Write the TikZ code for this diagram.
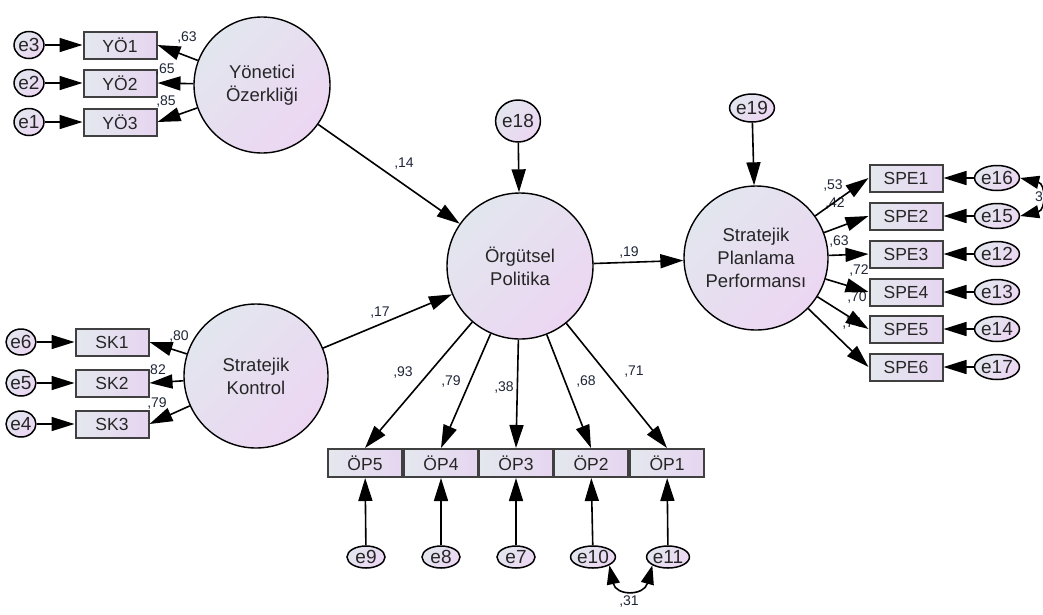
\documentclass[tikz,border=0pt]{standalone}
\usepackage{fontspec}
\setmainfont{Liberation Sans}
\usetikzlibrary{arrows.meta,shapes.geometric}
\definecolor{fillA}{HTML}{E2E6EE}
\definecolor{fillB}{HTML}{ECD6F2}
\definecolor{boxA}{HTML}{E4E8EE}
\definecolor{boxB}{HTML}{E6D5F0}
\definecolor{coefc}{HTML}{1E2536}
\begin{document}
\begin{tikzpicture}[x=1pt, y=-1pt,
  latent/.style={circle, draw, line width=1.4pt, minimum size=#1, inner sep=0pt, top color=fillA, bottom color=fillB, shading angle=45, align=center, font=\fontsize{18.5}{23}\selectfont, text=black!85},
  observed/.style={rectangle, draw=black!75, line width=2pt, minimum width=73pt, minimum height=27pt, inner sep=0pt, left color=boxA, right color=boxB, font=\fontsize{17.5}{17.5}\selectfont, text=black!85},
  err/.style 2 args={ellipse, draw, line width=1.5pt, minimum width=#1, minimum height=#2, inner sep=0pt, top color=fillA, bottom color=fillB, shading angle=45, font=\fontsize{19}{19}\selectfont, text=black!85},
  coef/.style={font=\fontsize{14}{14}\selectfont, text=coefc, inner sep=0pt},
  arr/.style={-{Triangle[length=23pt,width=14pt]}, line width=1.6pt},
  cov/.style={{Triangle[length=19pt,width=13pt]}-{Triangle[length=19pt,width=13pt]}, line width=1.6pt}]
\useasboundingbox (0,0) rectangle (1043,614);
% Latent variables
\node[latent=136pt] (yo) at (262,85) {Yönetici\\Özerkliği};
\node[latent=144pt] (sk) at (256,376) {Stratejik\\Kontrol};
\node[latent=146pt] (op) at (520,266) {Örgütsel\\Politika};
\node[latent=144pt] (spp) at (756,258) {Stratejik\\Planlama\\Performansı};
% Structural errors
\node[err={34pt}{42pt}] (e18) at (518,121) {e18};
\node[err={32pt}{28pt}] (e19) at (752,108) {e19};
% Yönetici Özerkliği indicators
\node[observed] (yo1) at (120,45) {YÖ1};
\node[observed] (yo2) at (120,83) {YÖ2};
\node[observed] (yo3) at (120,122) {YÖ3};
\node[err={25pt}{27pt}] (e3) at (29,45) {e3};
\node[err={25pt}{27pt}] (e2) at (29,83) {e2};
\node[err={25pt}{27pt}] (e1) at (29,122) {e1};
% Stratejik Kontrol indicators
\node[observed] (sk1) at (112,342) {SK1};
\node[observed] (sk2) at (112,383) {SK2};
\node[observed] (sk3) at (112,424) {SK3};
\node[err={25pt}{26pt}] (e6) at (21,342) {e6};
\node[err={25pt}{26pt}] (e5) at (21,383) {e5};
\node[err={25pt}{26pt}] (e4) at (21,424) {e4};
% Örgütsel Politika indicators
\node[observed, minimum width=74pt, minimum height=28pt] (op5) at (365,463) {ÖP5};
\node[observed, minimum width=74pt, minimum height=28pt] (op4) at (441,463) {ÖP4};
\node[observed, minimum width=74pt, minimum height=28pt] (op3) at (516,463) {ÖP3};
\node[observed, minimum width=74pt, minimum height=28pt] (op2) at (591,463) {ÖP2};
\node[observed, minimum width=74pt, minimum height=28pt] (op1) at (667,463) {ÖP1};
\node[err={38pt}{22pt}] (e9) at (366,557) {e9};
\node[err={38pt}{22pt}] (e8) at (441,557) {e8};
\node[err={38pt}{22pt}] (e7) at (516,557) {e7};
\node[err={38pt}{22pt}] (e10) at (593,557) {e10};
\node[err={38pt}{22pt}] (e11) at (668,557) {e11};
% Stratejik Planlama Performansı indicators
\node[observed] (spe1) at (906,178) {SPE1};
\node[observed] (spe2) at (906,216) {SPE2};
\node[observed] (spe3) at (906,254) {SPE3};
\node[observed] (spe4) at (906,292) {SPE4};
\node[observed] (spe5) at (906,329) {SPE5};
\node[observed] (spe6) at (906,367) {SPE6};
\node[err={37pt}{25pt}] (e16) at (997,178) {e16};
\node[err={37pt}{25pt}] (e15) at (997,216) {e15};
\node[err={37pt}{25pt}] (e12) at (997,254) {e12};
\node[err={37pt}{25pt}] (e13) at (997,292) {e13};
\node[err={37pt}{25pt}] (e14) at (997,329) {e14};
\node[err={37pt}{25pt}] (e17) at (997,367) {e17};
% Coefficients
\node[coef] (c14) at (404,164) {,14};
\node[coef] (c17) at (380,313) {,17};
\node[coef] (c19) at (629,252) {,19};
\node[coef] (cyo1) at (187,38) {,63};
\node[coef] (cyo2) at (165,70) {,65};
\node[coef] (cyo3) at (166,102) {,85};
\node[coef] (csk1) at (179,336) {,80};
\node[coef] (csk2) at (158,370) {82};
\node[coef] (csk3) at (157,403) {,79};
\node[coef] (cop5) at (403,372) {,93};
\node[coef] (cop4) at (451,381) {,79};
\node[coef] (cop3) at (504,387) {,38};
\node[coef] (cop2) at (586,381) {,68};
\node[coef] (cop1) at (634,372) {,71};
\node[coef] (c31) at (629,601) {,31};
\node[coef] (cspe1) at (833,186) {,53};
\node[coef] (cspe2) at (835,203) {,42};
\node[coef] (cspe3) at (839,242) {,63};
\node[coef] (cspe4) at (859,270) {,72};
\node[coef] (cspe5) at (857,297) {,70};
\node[coef] (cspe6) at (852,324) {,74};
\node[coef] (ce1516) at (1039,197) {3};
% Structural paths
\draw[arr] (yo) -- (op);
\draw[arr] (sk) -- (op);
\draw[arr] (op) -- (spp);
\draw[arr] (e18) -- (op);
\draw[arr] (e19) -- (spp);
% Loadings
\draw[arr] (yo) -- (yo1.east);
\draw[arr] (yo) -- (yo2.east);
\draw[arr] (yo) -- (yo3.east);
\draw[arr] (sk) -- (sk1.east);
\draw[arr] (sk) -- (sk2.east);
\draw[arr] (sk) -- (sk3.east);
\draw[arr] (op) -- (op5.north);
\draw[arr] (op) -- (op4.north);
\draw[arr] (op) -- (op3.north);
\draw[arr] (op) -- (op2.north);
\draw[arr] (op) -- (op1.north);
\draw[arr] (spp) -- (spe1.west);
\draw[arr] (spp) -- (spe2.west);
\draw[arr] (spp) -- (spe3.west);
\draw[arr] (spp) -- (spe4.west);
\draw[arr] (spp) -- (spe5.west);
\draw[arr] (spp) -- (spe6.west);
% Measurement errors
\draw[arr] (e3) -- (yo1);
\draw[arr] (e2) -- (yo2);
\draw[arr] (e1) -- (yo3);
\draw[arr] (e6) -- (sk1);
\draw[arr] (e5) -- (sk2);
\draw[arr] (e4) -- (sk3);
\draw[arr] (e9) -- (op5);
\draw[arr] (e8) -- (op4);
\draw[arr] (e7) -- (op3);
\draw[arr] (e10) -- (op2);
\draw[arr] (e11) -- (op1);
\draw[arr] (e16) -- (spe1);
\draw[arr] (e15) -- (spe2);
\draw[arr] (e12) -- (spe3);
\draw[arr] (e13) -- (spe4);
\draw[arr] (e14) -- (spe5);
\draw[arr] (e17) -- (spe6);
% Covariances
\draw[cov] (e10.south east) .. controls (616,596) and (644,596) .. (e11.south west);
\draw[cov] (e16.east) .. controls (1046,184) and (1046,210) .. (e15.east);
\end{tikzpicture}
\end{document}
